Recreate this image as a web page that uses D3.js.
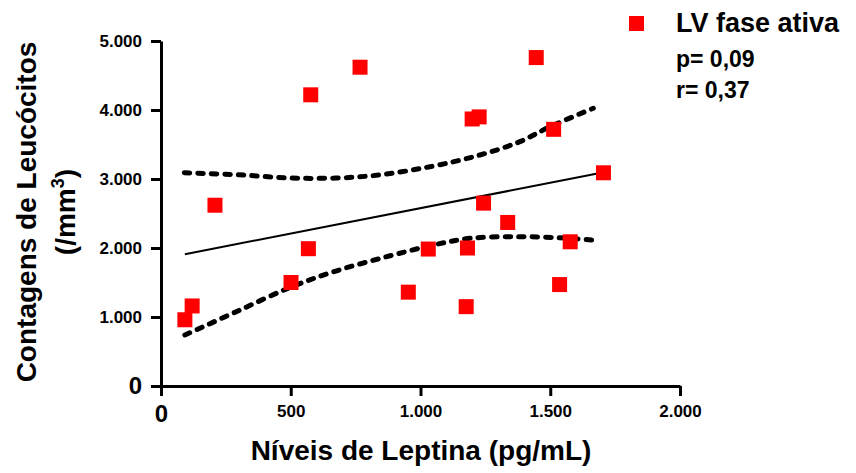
<!DOCTYPE html>
<html>
<head>
<meta charset="utf-8">
<script src="https://cdn.jsdelivr.net/npm/d3@7"></script>
<style>
  body { margin: 0; background: #fff; }
  text { font-family: "Liberation Sans", Arial, sans-serif; font-weight: bold; fill: #000; }
</style>
</head>
<body>
<svg id="chart" width="856" height="473"></svg>
<script>
(function() {
    const width = 856;
    const height = 473;

    // leptina (pg/mL) x leucocitos (/mm3)
    const leptina = [92, 120, 208, 501, 568, 577, 767, 953, 1030, 1181, 1176, 1536, 1577, 1446, 1199, 1226, 1513, 1705, 1243, 1336];
    const leucocitos = [960, 1160, 2620, 1500, 1990, 4220, 4620, 1360, 1985, 2000, 1150, 1470, 2090, 4760, 3870, 3900, 3720, 3090, 2650, 2370];

    // regression line and 95% band
    const fitX = [92, 1692];
    const fitY = [1909, 3087];
    const upperX = [90, 300, 536, 793, 1037, 1229, 1383, 1499, 1666];
    const upperY = [3090, 3060, 3010, 3040, 3178, 3348, 3541, 3758, 4025];
    const lowerX = [92, 292, 504, 677, 870, 1049, 1191, 1383, 1576, 1685];
    const lowerY = [739, 1080, 1439, 1670, 1874, 2043, 2140, 2164, 2140, 2106];

    const xTicks = [0, 500, 1000, 1500, 2000];
    const yTicks = [0, 1000, 2000, 3000, 4000, 5000];
    const fmt = d => d === 0 ? "0" : d3.format(",")(d).replace(/,/g, ".");

    const svg = d3.select("#chart");

    const x = d3.scaleLinear().domain([0, 2000]).range([161, 680]);
    const y = d3.scaleLinear().domain([0, 5000]).range([386, 41]);

    // axes
    const yAxis = svg.append("g")
        .attr("transform", "translate(161,0)")
        .call(d3.axisLeft(y).tickValues(yTicks).tickFormat(fmt).tickSize(10).tickSizeOuter(0).tickPadding(9));
    const xAxis = svg.append("g")
        .attr("transform", "translate(0,386)")
        .call(d3.axisBottom(x).tickValues(xTicks).tickFormat(fmt).tickSize(10).tickSizeOuter(0).tickPadding(9));

    [xAxis, yAxis].forEach(a => {
        a.select(".domain").attr("stroke", "#000").attr("stroke-width", 3);
        a.selectAll(".tick line").attr("stroke", "#000").attr("stroke-width", 3);
        a.selectAll(".tick text")
            .attr("fill", "#000")
            .style("font-family", "'Liberation Sans', Arial, sans-serif")
            .style("font-weight", "bold")
            .style("font-size", d => d === 0 ? "24px" : "17px");
    });

    // regression line
    const line = d3.line().x(d => x(d[0])).y(d => y(d[1]));
    const curve = d3.line().x(d => x(d[0])).y(d => y(d[1])).curve(d3.curveCatmullRom.alpha(0.5));

    svg.append("path")
        .attr("d", line(d3.zip(fitX, fitY)))
        .attr("fill", "none")
        .attr("stroke", "#000")
        .attr("stroke-width", 2);

    [d3.zip(upperX, upperY), d3.zip(lowerX, lowerY)].forEach(band => {
        svg.append("path")
            .attr("d", curve(band))
            .attr("fill", "none")
            .attr("stroke", "#000")
            .attr("stroke-width", 5)
            .attr("stroke-linecap", "round")
            .attr("stroke-dasharray", "5.5,8");
    });

    // points
    const sq = 15;
    svg.append("g").selectAll("rect")
        .data(d3.zip(leptina, leucocitos))
        .enter().append("rect")
        .attr("x", d => x(d[0]) - sq / 2)
        .attr("y", d => y(d[1]) - sq / 2)
        .attr("width", sq)
        .attr("height", sq)
        .attr("fill", "#ff0000");

    // axis titles
    svg.append("text")
        .attr("x", 421)
        .attr("y", 460)
        .attr("text-anchor", "middle")
        .style("font-size", "28px")
        .text("Níveis de Leptina (pg/mL)");

    svg.append("text")
        .attr("transform", "translate(36,212) rotate(-90)")
        .attr("text-anchor", "middle")
        .style("font-size", "28px")
        .text("Contagens de Leucócitos");

    const unit = svg.append("text")
        .attr("transform", "translate(75,212) rotate(-90)")
        .attr("text-anchor", "middle")
        .style("font-size", "28px");
    unit.append("tspan").text("(/mm");
    unit.append("tspan").attr("dy", -11).style("font-size", "18px").text("3");
    unit.append("tspan").attr("dy", 11).text(")");

    // legend
    svg.append("rect")
        .attr("x", 629).attr("y", 16)
        .attr("width", sq).attr("height", sq)
        .attr("fill", "#ff0000");
    svg.append("text").attr("x", 676).attr("y", 32).style("font-size", "27px").text("LV fase ativa");
    svg.append("text").attr("x", 676).attr("y", 67).style("font-size", "23px").text("p= 0,09");
    svg.append("text").attr("x", 676).attr("y", 98).style("font-size", "23px").text("r= 0,37");
})();
</script>
</body>
</html>
